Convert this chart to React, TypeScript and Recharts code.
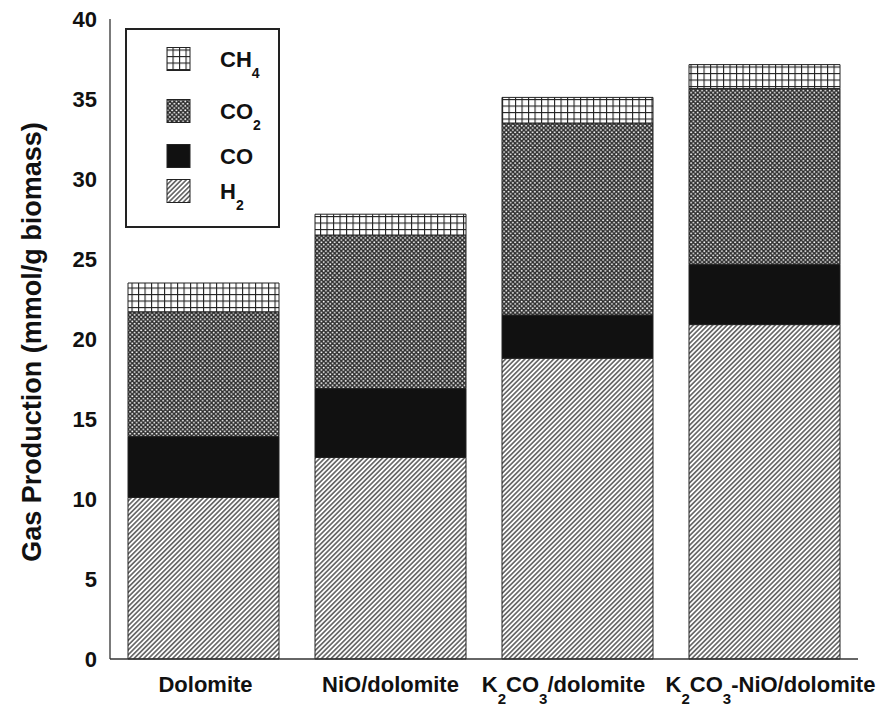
import React from "react";
import { BarChart, Bar, XAxis, YAxis, Legend } from "recharts";

const categories = ["Dolomite", "NiO/dolomite", "K2CO3/dolomite", "K2CO3-NiO/dolomite"];
const h2 = [10.1, 12.6, 18.8, 20.9];
const co = [3.8, 4.3, 2.7, 3.75];
const co2 = [7.8, 9.6, 12.0, 11.0];
const ch4 = [1.8, 1.3, 1.6, 1.5];
const yTicks = [0, 5, 10, 15, 20, 25, 30, 35, 40];

const series = [
  { key: "h2", label: "H2", fill: "url(#pH2)", lfill: "url(#lH2)" },
  { key: "co", label: "CO", fill: "#111", lfill: "#111" },
  { key: "co2", label: "CO2", fill: "url(#pCO2)", lfill: "url(#lCO2)" },
  { key: "ch4", label: "CH4", fill: "url(#pCH4)", lfill: "url(#lCH4)" },
];

const data = categories.map((name, i) => ({
  name,
  h2: h2[i],
  co: co[i],
  co2: co2[i],
  ch4: ch4[i],
}));

const FONT = "'Liberation Sans', Arial, sans-serif";
const LABEL_NUDGE = [2, 0, -14, 6];

function subTspans(label: string, sub: number, subSize: number) {
  const parts = label.split(/(\d)/).filter((p) => p.length > 0);
  let inSub = false;
  return parts.map((p, i) => {
    const isDigit = /^\d$/.test(p);
    let dy = 0;
    if (isDigit && !inSub) {
      dy = sub;
      inSub = true;
    } else if (!isDigit && inSub) {
      dy = -sub;
      inSub = false;
    }
    return (
      <tspan key={i} dy={dy} fontSize={isDigit ? subSize : undefined}>
        {p}
      </tspan>
    );
  });
}

function Patterns({ prefix }: { prefix: string }) {
  return (
    <defs>
      <pattern id={prefix + "H2"} patternUnits="userSpaceOnUse" width="3.4" height="3.4" patternTransform="rotate(45)">
        <rect width="3.4" height="3.4" fill="#fff" />
        <line x1="1.7" y1="0" x2="1.7" y2="3.4" stroke="#222" strokeWidth="1.15" />
      </pattern>
      <pattern id={prefix + "CO2"} patternUnits="userSpaceOnUse" width="4.4" height="4.4">
        <rect width="4.4" height="4.4" fill="#2e2e2e" />
        <circle cx="1.1" cy="1.1" r="0.95" fill="#fff" />
        <circle cx="3.3" cy="3.3" r="0.95" fill="#fff" />
      </pattern>
      <pattern id={prefix + "CH4"} patternUnits="userSpaceOnUse" width="6.5" height="6.5">
        <rect width="6.5" height="6.5" fill="#fff" />
        <line x1="0" y1="0.5" x2="6.5" y2="0.5" stroke="#222" strokeWidth="1.2" />
        <line x1="0.5" y1="0" x2="0.5" y2="6.5" stroke="#222" strokeWidth="1.2" />
      </pattern>
    </defs>
  );
}

function XTick(props: any) {
  const { x, y, payload, index } = props;
  const nudge = LABEL_NUDGE[index] || 0;
  return (
    <text
      x={x + nudge}
      y={y + 33}
      textAnchor="middle"
      fontFamily={FONT}
      fontWeight="bold"
      fontSize={22}
      fill="#111"
    >
      {subTspans(String(payload.value), 12, 15)}
    </text>
  );
}

function YTick(props: any) {
  const { x, y, payload } = props;
  return (
    <text
      x={x}
      y={y + 8}
      textAnchor="end"
      fontFamily={FONT}
      fontWeight="bold"
      fontSize={22}
      fill="#111"
    >
      {payload.value}
    </text>
  );
}

function YTitle(props: any) {
  const vb = props.viewBox || {};
  const cx = 24;
  const cy = (vb.y || 0) + (vb.height || 0) / 2 + 3;
  return (
    <text
      x={cx}
      y={cy}
      transform={`rotate(-90, ${cx}, ${cy})`}
      textAnchor="middle"
      dominantBaseline="central"
      fontFamily={FONT}
      fontWeight="bold"
      fontSize={27}
      fill="#111"
    >
      Gas Production (mmol/g biomass)
    </text>
  );
}

const legendRows = [
  { s: series[3], cy: 29 },
  { s: series[2], cy: 81 },
  { s: series[1], cy: 126 },
  { s: series[0], cy: 161 },
];

function LegendBox() {
  return (
    <div
      style={{
        width: 155,
        height: 200,
        border: "2px solid #222",
        boxSizing: "border-box",
        background: "#fff",
      }}
    >
      <svg width={151} height={196} style={{ display: "block" }}>
        <Patterns prefix="l" />
        {legendRows.map(({ s, cy }) => (
          <g key={s.key}>
            <rect x={40} y={cy - 11.5} width={23} height={23} fill={s.lfill} stroke="#222" strokeWidth={1} />
            <text
              x={93}
              y={cy + 8}
              fontFamily={FONT}
              fontWeight="bold"
              fontSize={22}
              fill="#111"
            >
              {subTspans(s.label, 11, 14)}
            </text>
          </g>
        ))}
      </svg>
    </div>
  );
}

export default function App() {
  return (
    <BarChart
      width={878}
      height={706}
      data={data}
      margin={{ top: 11, right: 28, left: 0, bottom: 0 }}
      barSize={151}
    >
      <Patterns prefix="p" />
      <XAxis
        dataKey="name"
        height={55}
        tickLine={false}
        tickSize={0}
        tickMargin={0}
        axisLine={{ stroke: "#333", strokeWidth: 1.3 }}
        tick={<XTick />}
        interval={0}
      />
      <XAxis
        xAxisId="top"
        dataKey="name"
        orientation="top"
        height={0}
        tick={false}
        tickLine={false}
        axisLine={{ stroke: "#333", strokeWidth: 1.3 }}
      />
      <YAxis
        width={102}
        domain={[0, 40]}
        ticks={yTicks}
        tickLine={false}
        tickSize={0}
        tickMargin={13}
        axisLine={{ stroke: "#333", strokeWidth: 1.3 }}
        tick={<YTick />}
        interval={0}
        label={<YTitle />}
      />
      <YAxis
        yAxisId="right"
        orientation="right"
        width={0}
        domain={[0, 40]}
        tick={false}
        tickLine={false}
        axisLine={{ stroke: "#333", strokeWidth: 1.3 }}
      />
      <Legend
        layout="vertical"
        align="center"
        verticalAlign="middle"
        wrapperStyle={{ top: 20, left: 117, width: 155, height: 200 }}
        content={() => <LegendBox />}
      />
      {series.map((s) => (
        <Bar
          key={s.key}
          dataKey={s.key}
          name={s.label}
          stackId="a"
          fill={s.fill}
          stroke="#222"
          strokeWidth={1}
          isAnimationActive={false}
        />
      ))}
    </BarChart>
  );
}
